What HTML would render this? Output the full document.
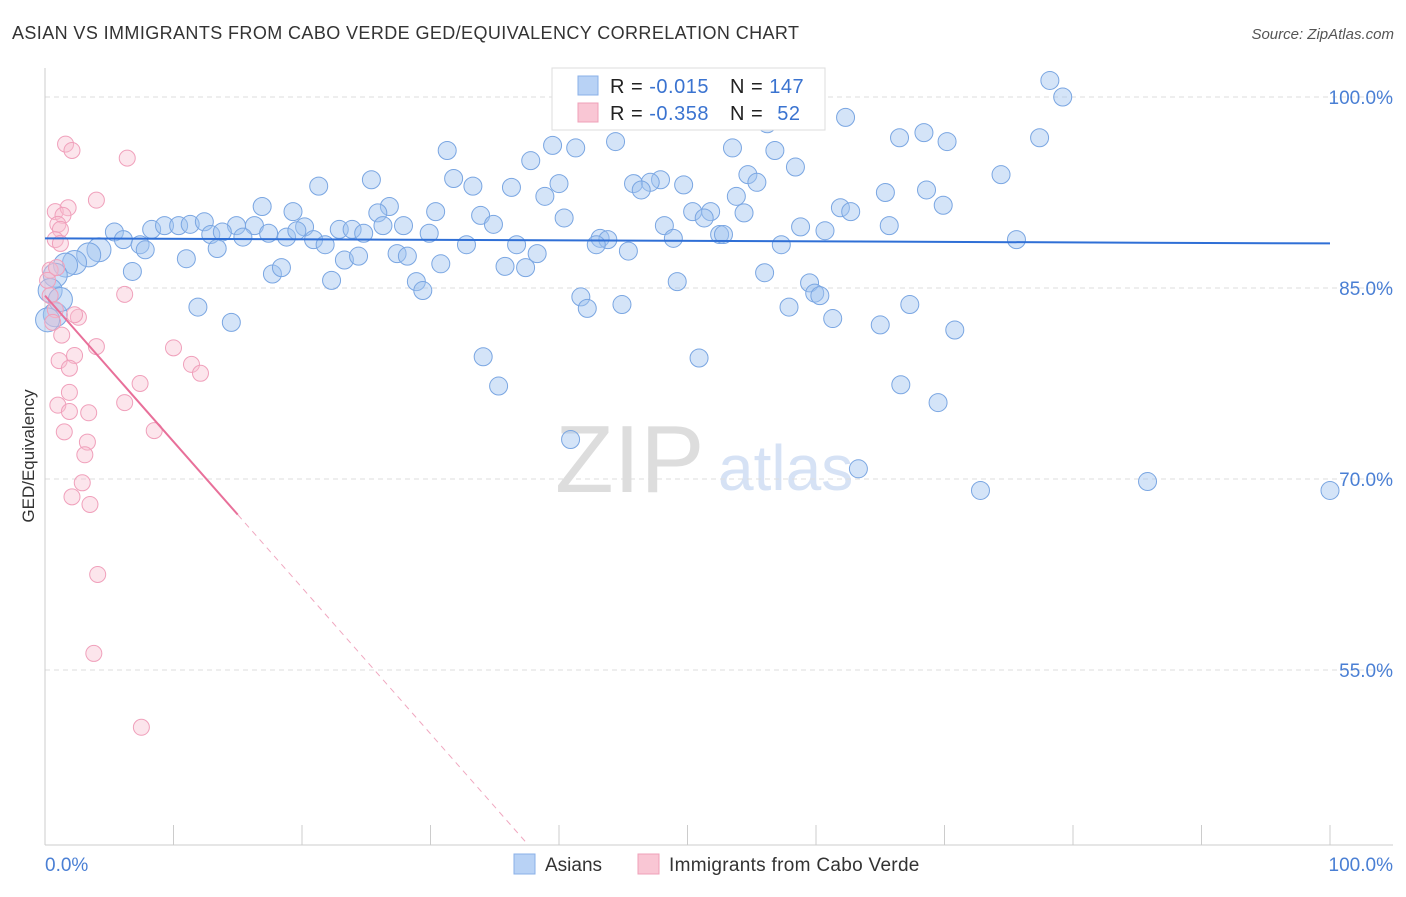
<!DOCTYPE html>
<html><head><meta charset="utf-8"><style>
body{margin:0;background:#fff;font-family:"Liberation Sans",sans-serif;}
svg text{font-family:"Liberation Sans",sans-serif;}
</style></head><body>
<svg id="chart" width="1406" height="892" xmlns="http://www.w3.org/2000/svg">
<text x="12" y="39" font-size="18" fill="#333" letter-spacing="0.4">ASIAN VS IMMIGRANTS FROM CABO VERDE GED/EQUIVALENCY CORRELATION CHART</text>
<text x="1394" y="39" font-size="15" fill="#555" font-style="italic" text-anchor="end">Source: ZipAtlas.com</text>
<text x="0" y="0" transform="translate(34,456) rotate(-90)" font-size="17" fill="#333" text-anchor="middle">GED/Equivalency</text>
<text x="555" y="492" font-size="96" fill="#ddd" font-family="Liberation Serif">ZIP</text>
<text x="718" y="490" font-size="64" fill="#d6e2f5">atlas</text>
<g id="grid"></g><g id="ticks"></g><g id="blue"></g><g id="pink"></g><g id="trends"></g>
<rect x="552" y="68" width="273" height="62" fill="#fff" stroke="#ddd"/>
<rect x="578" y="76" width="20" height="19" fill="#b8d2f5" stroke="#8ab0e8"/>
<rect x="578" y="103" width="20" height="19" fill="#f9c6d4" stroke="#efa0b8"/>
<text x="610" y="93" font-size="20" fill="#222" letter-spacing="0.5">R = <tspan fill="#3a73d0">-0.015</tspan></text>
<text x="730" y="93" font-size="20" fill="#222" letter-spacing="0.5">N = <tspan fill="#3a73d0">147</tspan></text>
<text x="610" y="120" font-size="20" fill="#222" letter-spacing="0.5">R = <tspan fill="#3a73d0">-0.358</tspan></text>
<text x="730" y="120" font-size="20" fill="#222" letter-spacing="0.5">N = <tspan fill="#3a73d0" dx="8">52</tspan></text>
<rect x="514" y="854" width="21" height="20" fill="#b8d2f5" stroke="#8ab0e8"/>
<text x="545" y="871" font-size="19" fill="#333">Asians</text>
<rect x="638" y="854" width="21" height="20" fill="#f9c6d4" stroke="#efa0b8"/>
<text x="669" y="871" font-size="19" fill="#333" letter-spacing="0.3">Immigrants from Cabo Verde</text>
<text x="45" y="871" font-size="19" fill="#4a7fd4">0.0%</text>
<text x="1393" y="871" font-size="19" fill="#4a7fd4" text-anchor="end">100.0%</text>
</svg>
<script>
const yTicks=[100,85,70,55];
const yTickLabels=["100.0%","85.0%","70.0%","55.0%"];
const blueX=[78.2,79.2,62.3,56.2,44.4,31.3,39.5,41.3,53.5,56.8,66.5,68.4,70.2,77.4,37.8,58.4,31.8,25.4,21.3,33.3,36.3,40.0,38.9,45.8,47.9,47.1,46.4,49.7,54.7,55.4,65.4,68.6,74.4,69.9,16.9,19.3,26.8,25.9,30.4,33.9,40.4,53.8,50.4,51.8,54.4,61.9,62.7,5.4,8.3,9.3,10.4,11.3,12.4,14.9,16.3,20.2,22.9,23.9,26.3,27.9,34.9,48.2,58.8,60.7,65.7,12.9,13.8,15.4,17.4,18.8,19.6,20.9,21.8,24.8,29.9,32.8,36.7,43.2,43.8,48.9,51.3,52.5,52.8,57.3,75.6,6.1,7.4,7.8,4.2,3.4,2.3,1.6,0.8,0.4,0.8,11.0,13.4,23.3,24.4,27.4,28.2,30.8,35.8,37.4,38.3,42.9,45.4,6.8,17.7,18.4,22.3,28.9,29.4,49.2,56.0,59.5,59.9,60.3,41.7,42.2,44.9,57.9,67.3,11.9,14.5,61.3,65.0,70.8,34.1,50.9,35.3,66.6,69.5,40.9,63.3,72.8,85.8,100.0,0.2,1.2];
const blueY=[101.3,100.0,98.4,97.9,96.5,95.8,96.2,96.0,96.0,95.8,96.8,97.2,96.5,96.8,95.0,94.5,93.6,93.5,93.0,93.0,92.9,93.2,92.2,93.2,93.5,93.3,92.7,93.1,93.9,93.3,92.5,92.7,93.9,91.5,91.4,91.0,91.4,90.9,91.0,90.7,90.5,92.2,91.0,91.0,90.9,91.3,91.0,89.4,89.6,89.9,89.9,90.0,90.2,89.9,89.9,89.8,89.6,89.6,89.9,89.9,90.0,89.9,89.8,89.5,89.9,89.2,89.4,89.0,89.3,89.0,89.5,88.8,88.4,89.3,89.3,88.4,88.4,88.9,88.8,88.9,90.5,89.2,89.2,88.4,88.8,88.8,88.4,88.0,88.0,87.6,87.0,86.8,86.0,84.8,82.9,87.3,88.1,87.2,87.5,87.7,87.5,86.9,86.7,86.6,87.7,88.4,87.9,86.3,86.1,86.6,85.6,85.5,84.8,85.5,86.2,85.4,84.6,84.4,84.3,83.4,83.7,83.5,83.7,83.5,82.3,82.6,82.1,81.7,79.6,79.5,77.3,77.4,76.0,73.1,70.8,69.1,69.8,69.1,82.5,84.1];
const pinkX=[1.6,2.1,6.4,4.0,0.8,1.8,1.4,1.0,1.2,0.8,1.2,0.4,0.9,0.2,0.4,0.8,0.6,1.3,6.2,2.6,2.3,4.0,1.1,2.3,1.9,7.4,10.0,11.4,12.1,1.9,6.2,1.0,1.9,3.4,1.5,8.5,3.3,3.1,2.9,2.1,3.5,4.1,3.8,7.5];
const pinkY=[96.3,95.8,95.2,91.9,91.0,91.3,90.7,90.0,89.6,88.8,88.5,86.4,86.6,85.6,84.4,83.3,82.3,81.3,84.5,82.7,82.9,80.4,79.3,79.7,78.7,77.5,80.3,79.0,78.3,76.8,76.0,75.8,75.3,75.2,73.7,73.8,72.9,71.9,69.7,68.6,68.0,62.5,56.3,50.5];
const blueTrend=[[0,88.9],[100,88.5]];
const pinkTrendSolid=[[0,84.4],[15,67.2]];
const pinkTrendDash=[[15,67.2],[37.4,41.5]];
const NS="http://www.w3.org/2000/svg";
const sx=v=>45+v*12.85, sy=v=>97+(100-v)*12.733;
function mk(tag,attrs,parent){const e=document.createElementNS(NS,tag);for(const k in attrs)e.setAttribute(k,attrs[k]);document.getElementById(parent).appendChild(e);return e;}
yTicks.forEach((t,i)=>{
 const g=mk('line',{x1:45,x2:1393,y1:sy(t),y2:sy(t),stroke:'#ddd','stroke-dasharray':'5,4'},'grid');
 
 
 const tx=mk('text',{x:1393,y:sy(t)+7,'font-size':19,fill:'#4a7fd4','text-anchor':'end'},'grid');
 tx.textContent=yTickLabels[i];
 
 
});
const ax=mk('line',{x1:45,x2:45,y1:68,y2:845,stroke:'#ccc'},'ticks');


const bx=mk('line',{x1:45,x2:1393,y1:845,y2:845,stroke:'#ccc'},'ticks');


for(let i=0;i<=10;i++){const l=mk('line',{x1:sx(i*10),x2:sx(i*10),y1:825,y2:845,stroke:'#ccc'},'ticks');
 
 }
blueX.forEach((x,i)=>{const r=x<5?12:9;
 const c=mk('circle',{cx:sx(x),cy:sy(blueY[i]),r:r,fill:'rgba(160,195,240,0.45)',stroke:'#7aa6e2','stroke-width':1},'blue');
 
 });
pinkX.forEach((x,i)=>{
 const c=mk('circle',{cx:sx(x),cy:sy(pinkY[i]),r:8,fill:'rgba(248,190,208,0.4)',stroke:'#f0a0bb','stroke-width':1},'pink');
 
 });
const bt=mk('line',{x1:sx(blueTrend[0][0]),y1:sy(blueTrend[0][1]),x2:sx(blueTrend[1][0]),y2:sy(blueTrend[1][1]),stroke:'#2f6fd6','stroke-width':2},'trends');


const pt=mk('line',{x1:sx(pinkTrendSolid[0][0]),y1:sy(pinkTrendSolid[0][1]),x2:sx(pinkTrendSolid[1][0]),y2:sy(pinkTrendSolid[1][1]),stroke:'#e8709a','stroke-width':2},'trends');


const pd=mk('line',{x1:sx(pinkTrendDash[0][0]),y1:sy(pinkTrendDash[0][1]),x2:sx(pinkTrendDash[1][0]),y2:sy(pinkTrendDash[1][1]),stroke:'#f0a8c0','stroke-width':1,'stroke-dasharray':'6,5'},'trends');


</script>
</body></html>
